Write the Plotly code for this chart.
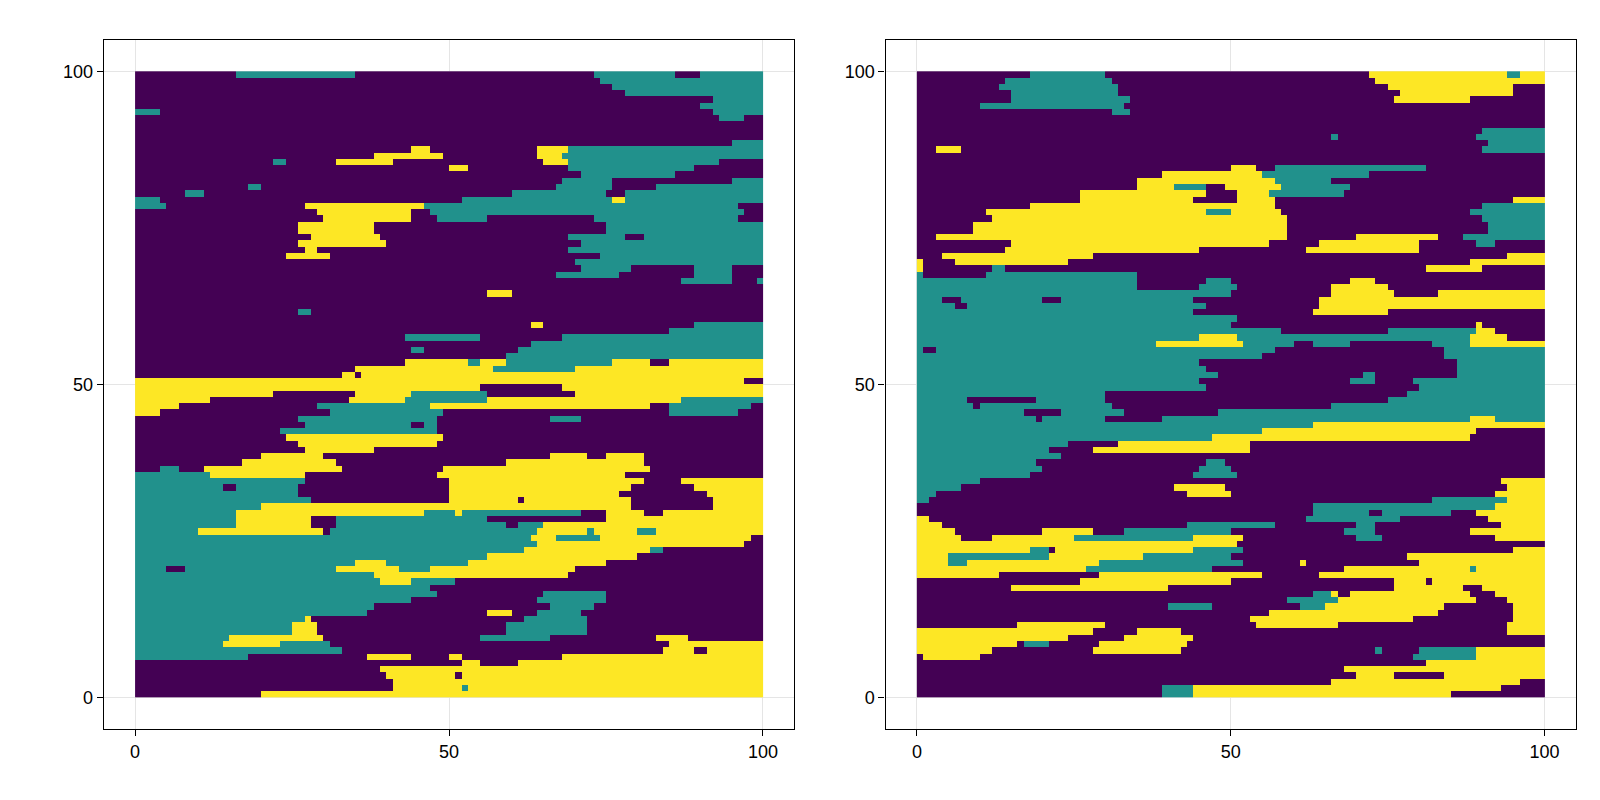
import numpy as np
import plotly.graph_objects as go

# category codes: P=0 (purple), T=1 (teal), Y=2 (yellow); default P
# each entry: row index (y from row to row+1) -> painted segments "Cx0-x1"
panel1_rows = {
 99: "T15.8-35.1 T72.9-86 T90-100", 98: "T73.8-100", 97: "T76-100", 96: "T78-100",
 95: "T92.1-100", 94: "T90-100", 93: "T0-3.6 T92.1-100", 92: "T93.3-97.4",
 88: "T95.3-100", 87: "Y44.2-47.3 Y63.7-68.8 T68.8-100", 86: "Y38.2-49.4 Y63.7-67.8 T67.8-100",
 85: "T21.9-24 Y32.2-41.3 Y64.7-68.8 T68.8-93.3", 84: "Y50.5-53.4 T68.8-89.1", 83: "T70.7-86",
 82: "T67.8-76 T95.3-100", 81: "T17.8-19.9 T66.8-76 T83-100", 80: "T7.7-10.8 T59.6-74.8 T78-100",
 79: "T0-3.6 T52.4-76 Y76-78 T78-100", 78: "T0-5.5 Y27-46.3 T46.3-96.3", 77: "Y29.1-44.2 T47.3-97.4",
 76: "Y30-44.2 T48.4-55.6 T72.9-96.3", 75: "Y26-38.2 T74.8-100", 74: "Y26-38.2 T74.8-100",
 73: "Y28.1-39.2 T68.8-78 T81.1-100", 72: "Y26-40.2 T70.7-100", 71: "Y27-29.1 T68.8-100",
 70: "Y24-31 T73.8-100", 69: "T69.8-100", 68: "T70.7-79 T89.1-95.3", 67: "T66.8-76.9 T89.1-95.3",
 66: "T87-95.3 T99.3-100", 64: "Y56.5-59.6", 61: "T26-28.1", 59: "Y62.7-64.7 T89.1-100",
 58: "T85.1-100", 57: "T43.3-54.6 T67.8-100", 56: "T62.7-100", 55: "T44.2-46.3 T60.6-100",
 54: "T58.7-100", 53: "Y43.3-53.4 T53.4-54.6 Y54.6-58.7 T58.7-76 Y76-82 Y85.1-100",
 52: "Y35.1-57.5 T57.5-69.8 Y69.8-100", 51: "Y33.2-35.1 Y36.1-100", 50: "Y0-97.4",
 49: "Y0-54.6 Y67.8-100", 48: "Y0-21.9 Y35.1-44.2 T44.2-55.6 Y69.8-100",
 47: "Y0-11.8 Y34.2-43.3 T43.3-55.6 Y55.6-87 T87-100", 46: "Y0-6.7 T29.1-47.3 Y47.3-82 T85.1-98.4",
 45: "Y0-3.6 T31-49.4 T85.1-96.3", 44: "T26-48.4 T65.7-70.7", 43: "T27-44.2 T46.3-48.4",
 42: "T22.9-48.4", 41: "Y24-49.4", 40: "Y26-48.4", 39: "Y27-38.2",
 38: "Y19.9-30 Y65.7-72 Y74.8-81.1", 37: "Y16.9-32.2 Y58.7-81.1", 36: "T3.6-6.7 Y10.8-33.2 Y49.4-82",
 35: "T0-11.8 Y11.8-27 Y48.4-78", 34: "T0-27 Y50.5-81.1 Y87-100", 33: "T0-13.7 T15.8-26 Y50.5-79 Y89.1-100",
 32: "T0-26 Y50.5-77 Y91.1-100", 31: "T0-28.1 Y50.5-60.6 Y61.6-79 Y92.2-100", 30: "T0-19.9 Y19.9-79 Y92.2-100",
 29: "T0-15.8 Y15.8-46.3 T46.3-51.5 Y51.5-52.4 T52.4-70.7 Y74.8-81.1 Y84-100",
 28: "T0-15.8 Y15.8-28.1 T32.2-56.5 Y74.8-100", 27: "T0-15.8 Y15.8-28.1 T32.2-58.7 T60.6-64.7 Y64.7-100",
 26: "T0-9.7 Y9.7-30 T31-63.7 Y63.7-72 T72-73 Y73-80 T80-83 Y83-100",
 25: "T0-62.7 Y62.7-66.8 T66.8-73.8 Y73.8-98.4", 24: "T0-63.7 Y63.7-97.4", 23: "T0-61.7 Y61.7-82 T82-84",
 22: "T0-56.5 Y56.5-80", 21: "T0-35.1 Y35.1-40.2 T40.2-53.4 Y53.4-74.8",
 20: "T0-5.5 T7.7-32.2 Y32.2-42.3 T42.3-47.3 Y47.3-69.8", 19: "T0-38.2 Y38.2-68.8",
 18: "T0-39.2 Y39.2-44.2 T44.2-51.5", 17: "T0-47.3", 16: "T0-48.4 T64.7-74.8", 15: "T0-44.2 T63.7-74.8",
 14: "T0-38.2 T65.7-72.8", 13: "T0-37.2 Y56.5-59.6 T63.7-70.7", 12: "T0-27 Y27-28.1 T61.7-72",
 11: "T0-25 Y25-29.1 T58.7-72", 10: "T0-25 Y25-29.1 T58.7-72", 9: "T0-14.7 Y14.7-30 T54.6-65.7 Y83-88.1",
 8: "T0-13.7 Y13.7-22.9 T22.9-31 Y85.1-100", 7: "T0-33.2 Y84-89.1 Y91.1-100",
 6: "T0-17.8 Y37.2-44.2 Y50.5-52.4 Y67.8-100", 5: "Y52.4-54.6 Y60.6-100", 4: "Y39.2-100",
 3: "Y40.2-51.5 Y52.4-100", 2: "Y41.3-100", 1: "Y41.3-52.4 T52.4-53.4 Y53.4-100", 0: "Y20-100",
}

panel2_rows = {
 99: "T18-30 Y72.1-94 T94-96 Y96-100", 98: "T14.2-31.2 Y73.1-100", 97: "T13-32.1 Y75.2-95.2",
 96: "T15.1-32.1 Y77.1-95.2", 95: "T15.1-34 Y76.2-88.2", 94: "T10.1-33.1", 93: "T31.2-34",
 90: "T90.1-100", 89: "T66.2-67.1 T89.2-100", 88: "T91.2-100", 87: "Y3.1-7.1 T90.1-100",
 84: "Y50.1-54.1 T57.2-81.1", 83: "Y39.1-55.1 T55.1-72.1", 82: "Y35-57.2 T57.2-66.2",
 81: "Y35-41.2 T41.2-46.1 Y49.5-58.2 T58.2-69.2", 80: "Y26-46.1 Y51.1-56.2 T56.2-68.1",
 79: "Y26-44.2 Y51.1-57.2 Y95.2-100", 78: "Y18-57.2 T90.1-100",
 77: "Y11.1-46.1 T46.1-50.1 Y50.1-58.2 T88.2-100", 76: "Y12.1-59.1 T90.1-100",
 75: "Y9-59.1 T91.2-100", 74: "Y9-59.1 T91.2-100", 73: "Y3.1-59.1 Y70.2-83.2 T87.2-100",
 72: "Y15.1-56.2 Y64.1-80.2 T89.2-92.2", 71: "Y14.2-45.2 Y62.2-80.2", 70: "Y4-28.1 Y94.1-100",
 69: "Y0-1 Y6.1-24.1 Y88.2-100", 68: "Y0-1 T12.1-14.2 Y81.1-90.1", 67: "T0-1 T11.1-35",
 66: "T0-35 T46.1-50.1 Y69.1-73.1", 65: "T0-35 T45.2-51.1 Y66.2-75.2", 64: "T0-50.1 Y66.2-76.2 Y83.2-100",
 63: "T0-4 T7.1-20.1 T23.1-44.2 Y64.1-100", 62: "T0-6.1 T8.1-46.1 Y64.1-100", 61: "T0-44.2 Y63.1-75.2",
 60: "T0-51.1", 59: "T0-50.1 Y89.2-90.1", 58: "T0-58.2 T75.2-89.2 Y89.2-92.2",
 57: "T0-88.2 Y45.2-51.1 Y88.2-94.1",
 56: "T0-38.1 Y38.1-52.1 T52.1-60.1 T63.1-69.1 T82.2-88.2 Y88.2-100",
 55: "T0-1 T3.1-57.2 T84.2-100", 54: "T0-55.1 T84.2-100", 53: "T0-45.2 T86.2-100",
 52: "T0-46.1 T86.2-100", 51: "T0-48.2 T71.2-73.1 T86.2-100", 50: "T0-45.2 T69.1-73.1 T79.2-100",
 49: "T0-46.1 T80.2-100", 48: "T0-30 T78.2-100", 47: "T0-8.1 T19.1-30 T75.2-100",
 46: "T0-9 T10-31.2 T66.2-100", 45: "T0-17 T23.1-33.1 T48.2-100",
 44: "T0-19.1 T20.1-30 T39.1-88.2 Y88.2-92.2 T92.2-100", 43: "T0-63.1 Y63.1-100",
 42: "T0-55.1 Y55.1-89.2", 41: "T0-47.1 Y47.1-88.2", 40: "T0-24.1 Y32.1-53.1", 39: "T0-21.1 Y28.1-53.1",
 38: "T0-23.1", 37: "T0-19.1 T46.1-49.2", 36: "T0-20.1 T45.2-50.1", 35: "T0-18 T44.2-51.1",
 34: "T0-10 Y93.1-100", 33: "T0-7.1 Y41.2-49.2 Y94.1-100", 32: "T0-3.1 Y43.1-50.1 Y92.2-100",
 31: "T0-2.1 T82.2-94.1 Y94.1-100", 30: "T63.1-92.2 Y92.2-100", 29: "T63.1-72.1 T74.2-85.2 Y89.2-100",
 28: "Y0-2.1 T62.2-77.1 Y91.2-100", 27: "Y0-4 T43.1-57.2 T70.2-73.1 Y93.1-100",
 26: "Y0-6.1 Y20.1-28.1 T33.1-50.1 T68.1-73.1 Y88.2-100",
 25: "Y0-7.1 Y12.1-25.1 T25.1-44.2 Y44.2-52.1 T70.2-74.2 Y92.2-100", 24: "Y0-50.9",
 23: "Y0-18 T18-21.1 Y22-44.2 T44.2-52.1 Y95.2-100", 22: "Y0-5 T5-21.1 Y21.1-35.8 T35.8-50.1 Y78.2-100",
 21: "Y0-5 T5-8.1 Y8.1-29.1 T29.1-52.1 Y61.2-62.2 Y80.2-100", 20: "Y0-27.1 T27.1-47.1 Y68.1-100 T88.2-89.2",
 19: "Y0-13 Y29.1-55.1 Y64.1-100", 18: "Y25.9-50.1 Y76.2-81.1 Y82.2-100", 17: "Y15.1-40.1 Y76.2-87.2 Y90.1-100",
 16: "T63.1-66.2 Y66.2-67.1 Y69.1-88.2 Y92.2-100", 15: "T59.1-67.1 Y67.1-89.2 Y94.1-100",
 14: "T40.1-47.1 T61.2-65.2 Y65.2-84.2 Y95.2-100", 13: "Y56.1-83.2 Y95.2-100", 12: "Y53.1-79.2 Y95.2-100",
 11: "Y15.8-30 Y54.1-67.1 Y94.1-100", 10: "Y0-28.1 Y35-42.1 Y94.1-100", 9: "Y0-24.1 Y33.1-44.2",
 8: "Y0-16 T16.9-21.1 Y29.1-43.1", 7: "Y0-12.1 Y28.1-42.1 T73.1-74.2 T80.2-89.2 Y89.2-100",
 6: "Y1-10 T79.2-89.2 Y89.2-100", 5: "Y81.1-100", 4: "Y68.1-100", 3: "Y70.2-76.2 Y84.2-100",
 2: "Y66.2-96", 1: "T39.1-44.2 Y44.2-93.1", 0: "T39.1-44.2 Y44.2-85",
}

tick_vals = [0, 50, 100]
tick_text = ["0", "50", "100"]
code = {"P": 0, "T": 1, "Y": 2}

def build(rows):
    z = np.zeros((100, 100))
    centers = np.arange(100) + 0.5
    for r, spec in rows.items():
        for seg in spec.split():
            c = code[seg[0]]
            a, b = (float(v) for v in seg[1:].split("-"))
            z[r][(centers >= a) & (centers < b)] = c
    return z

cells = np.arange(100) + 0.5
cs = [[0, "#440154"], [0.5, "#21918c"], [1, "#fde725"]]
fig = go.Figure()
for i, rows in enumerate([panel1_rows, panel2_rows]):
    fig.add_trace(go.Heatmap(z=build(rows), x=cells, y=cells, zmin=0, zmax=2, colorscale=cs,
                             showscale=False, hoverinfo="skip",
                             xaxis="x" if i == 0 else "x2", yaxis="y" if i == 0 else "y2"))

ax = dict(range=[-5, 105], tickvals=tick_vals, ticktext=tick_text, showgrid=True, gridcolor="#e5e5e5",
          zeroline=False, showline=True, mirror=True, linecolor="black", linewidth=1.3,
          ticks="outside", ticklen=6, tickcolor="black", tickfont=dict(size=18, color="black"))
fig.update_layout(
    width=1600, height=800, margin=dict(l=0, r=0, t=0, b=0), plot_bgcolor="white", paper_bgcolor="white",
    font=dict(family="Liberation Sans"),
    xaxis=dict(ax, domain=[95.7/1600, 786.3/1600], anchor="y"),
    yaxis=dict(ax, domain=[1-721/800, 1-32/800], anchor="x"),
    xaxis2=dict(ax, domain=[877.5/1600, 1568/1600], anchor="y2"),
    yaxis2=dict(ax, domain=[1-721/800, 1-32/800], anchor="x2"),
)
fig.write_html("out.html")
